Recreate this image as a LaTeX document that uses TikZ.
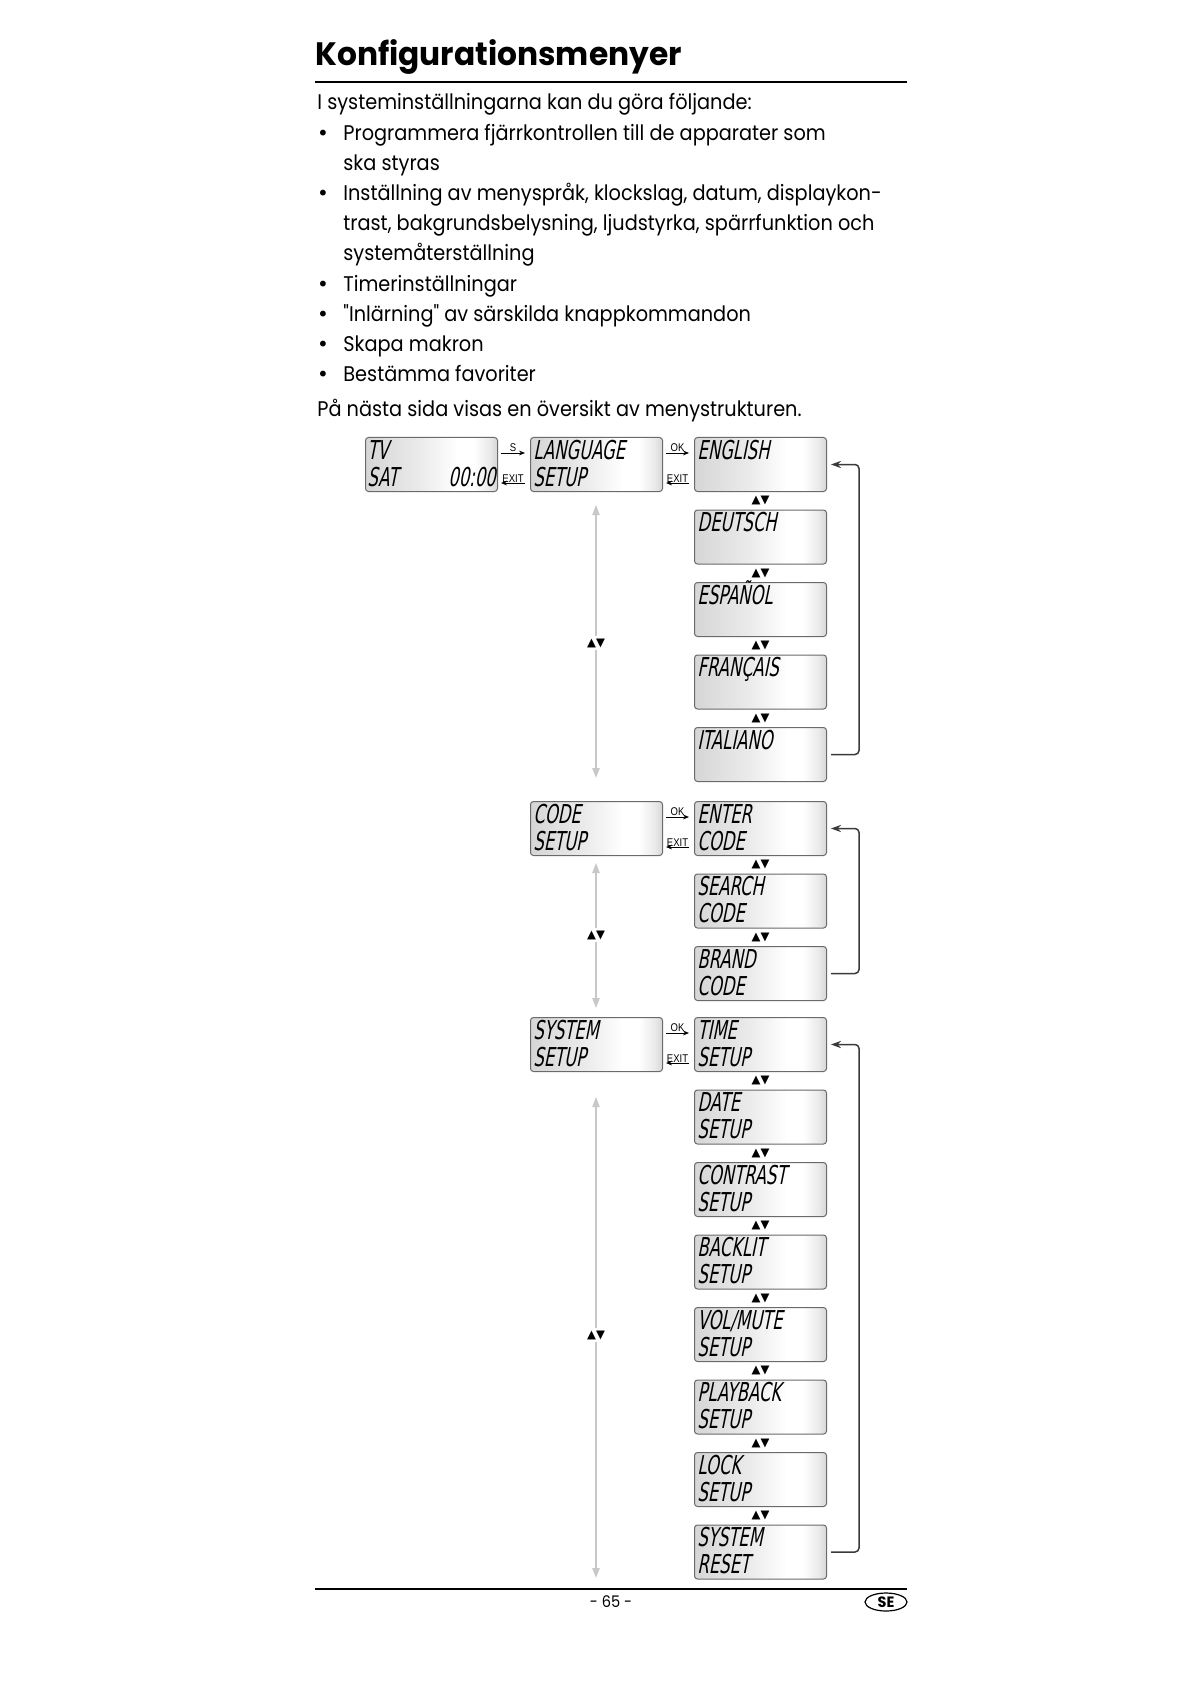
\documentclass[tikz,border=0pt]{standalone}
\usepackage{fontspec}
\setmainfont{Poppins}[FakeStretch=0.91]
\newfontfamily\bodyfont[FakeStretch=0.91]{Poppins}
\newfontfamily\titlefont[FakeStretch=0.965]{Poppins}
\newfontfamily\lcdfont[FakeSlant=0.2,FakeStretch=0.63]{DejaVu Sans}
\newfontfamily\symfont{DejaVu Sans}
\newfontfamily\labfont[FakeStretch=0.85]{Liberation Sans}
\usetikzlibrary{arrows.meta,calc,shapes.geometric}
\definecolor{lcdA}{HTML}{D6D6D6}
\definecolor{lcdB}{HTML}{EAEAEA}
\definecolor{lcdedge}{HTML}{6A6A6A}
\definecolor{guide}{HTML}{C8C8C8}
\definecolor{retc}{HTML}{3A3A3A}
\pgfdeclarehorizontalshading{lcdshade}{100bp}{color(0bp)=(lcdA); color(25bp)=(lcdA); color(45bp)=(lcdB); color(60bp)=(white); color(66bp)=(white); color(72bp)=(lcdB); color(75bp)=(lcdA); color(100bp)=(lcdA)}
\tikzset{
  lcd/.style={draw=lcdedge, line width=0.5pt, rounded corners=1.5pt, shading=lcdshade,
    minimum width=66pt, minimum height=27pt, inner sep=0pt, anchor=north west},
  lcdtxt/.style={inner sep=0pt, anchor=base west, font=\lcdfont\fontsize{13}{13}\selectfont},
  nav/.style={inner sep=1pt, font=\symfont\fontsize{5.8}{6}\selectfont},
  harr/.style={line width=0.45pt, -{Stealth[length=3pt,width=2.4pt]}},
  hlab/.style={inner sep=0pt, font=\labfont\fontsize{5.6}{6}\selectfont},
  ret/.style={draw=retc, line width=0.75pt, rounded corners=2pt, -{Stealth[length=5pt,width=3.6pt]}},
  garr/.style={draw=guide, line width=0.8pt, -{Triangle[length=5pt,width=3.6pt]}, fill=guide},
  body/.style={inner sep=0pt, anchor=base west, font=\bodyfont\fontsize{10.6}{12}\selectfont},
  bul/.style={inner sep=0pt, anchor=base, font=\symfont\fontsize{10}{12}\selectfont},
}
\newcommand\lcdone[4]{%
  \node[lcd] (#1) at (#2,#3) {};
  \node[lcdtxt] (#1-a) at ($(#1.north west)+(3,22)$) {#4};}
\newcommand\lcdtwo[5]{%
  \node[lcd] (#1) at (#2,#3) {};
  \node[lcdtxt] (#1-a) at ($(#1.north west)+(3,22)$) {#4};
  \node[lcdtxt] (#1-b) at ($(#1.north west)+(3,49)$) {#5};}
\newcommand\okexit[2]{%
  \draw[harr] ($(#1.north east)+(3,16)$) -- ($(#2.north west)+(-5,16)$)
     node[midway, above=0.6pt, hlab] (#1-#2-ok) {OK};
  \draw[harr] ($(#2.north west)+(-5,46)$) -- ($(#1.north east)+(3,46)$)
     node[midway, above=0.2pt, hlab] (#1-#2-exit) {EXIT};}
\newcommand\updown[3]{%
  \path (#2.south) -- (#3.north) node[midway, nav] (#1) {▲▼};}
\begin{document}
\begin{tikzpicture}[x=0.5pt,y=-0.5pt]
\useasboundingbox[fill=white] (0,0) rectangle (1191,1684);

% heading
\node[inner sep=0pt, anchor=base west, font=\titlefont\bfseries\fontsize{16.2}{18}\selectfont] (title) at (315,66) {Konfigurationsmenyer};
\draw[line width=1pt] (315,82) coordinate (r1a) -- (907,82) coordinate (r1b);

% body text
\node[body] (t1) at (317,110) {I systeminställningarna kan du göra följande:};
\node[bul] (b1) at (323,140.2) {•};
\node[body] (t2) at (343,140.2) {Programmera fjärrkontrollen till de apparater som};
\node[body] (t3) at (343,170.4) {ska styras};
\node[bul] (b2) at (323,200.6) {•};
\node[body] (t4) at (343,200.6) {Inställning av menyspråk, klockslag, datum, displaykon-};
\node[body] (t5) at (343,230.8) {trast, bakgrundsbelysning, ljudstyrka, spärrfunktion och};
\node[body] (t6) at (343,261) {systemåterställning};
\node[bul] (b3) at (323,291.2) {•};
\node[body] (t7) at (343,291.2) {Timerinställningar};
\node[bul] (b4) at (323,321.4) {•};
\node[body] (t8) at (343,321.4) {"Inlärning" av särskilda knappkommandon};
\node[bul] (b5) at (323,351.6) {•};
\node[body] (t9) at (343,351.6) {Skapa makron};
\node[bul] (b6) at (323,381.8) {•};
\node[body] (t10) at (343,381.8) {Bestämma favoriter};
\node[body] (t11) at (317,416) {På nästa sida visas en översikt av menystrukturen.};

% first row
\node[lcd] (tv) at (365,437) {};
\node[lcdtxt] (tv-a) at ($(tv.north west)+(2,22)$) {TV};
\node[lcdtxt] (tv-b) at ($(tv.north west)+(2,49)$) {SAT};
\node[lcdtxt, anchor=base east] (tv-c) at ($(tv.north east)+(-2,49)$) {00:00};
\lcdtwo{lang}{530}{437}{LANGUAGE}{SETUP}
\draw[harr] ($(tv.north east)+(3,16)$) -- ($(lang.north west)+(-5,16)$)
   node[midway, above=0.6pt, hlab] (s-lab) {S};
\draw[harr] ($(lang.north west)+(-5,46)$) -- ($(tv.north east)+(3,46)$)
   node[midway, above=0.2pt, hlab] (tv-exit) {EXIT};

% language list
\lcdone{eng}{694}{437}{ENGLISH}
\lcdone{deu}{694}{509.5}{DEUTSCH}
\lcdone{esp}{694}{582}{ESPAÑOL}
\lcdone{fra}{694}{654.5}{FRANÇAIS}
\lcdone{ita}{694}{727}{ITALIANO}
\okexit{lang}{eng}
\updown{n1}{eng}{deu}
\updown{n2}{deu}{esp}
\updown{n3}{esp}{fra}
\updown{n4}{fra}{ita}
\draw[ret] ($(ita.east)+(4,0)$) -- ($(ita.east)+(32,0)$) |- ($(eng.east)+(4,0)$);

% code setup
\lcdtwo{code}{530}{801}{CODE}{SETUP}
\lcdtwo{enter}{694}{801}{ENTER}{CODE}
\lcdtwo{search}{694}{873.5}{SEARCH}{CODE}
\lcdtwo{brand}{694}{946}{BRAND}{CODE}
\okexit{code}{enter}
\updown{n5}{enter}{search}
\updown{n6}{search}{brand}
\draw[ret] ($(brand.east)+(4,0)$) -- ($(brand.east)+(32,0)$) |- ($(enter.east)+(4,0)$);

% system setup
\lcdtwo{sys}{530}{1017}{SYSTEM}{SETUP}
\lcdtwo{time}{694}{1017}{TIME}{SETUP}
\lcdtwo{date}{694}{1089.5}{DATE}{SETUP}
\lcdtwo{contrast}{694}{1162}{CONTRAST}{SETUP}
\lcdtwo{backlit}{694}{1234.5}{BACKLIT}{SETUP}
\lcdtwo{vol}{694}{1307}{VOL/MUTE}{SETUP}
\lcdtwo{play}{694}{1379.5}{PLAYBACK}{SETUP}
\lcdtwo{lock}{694}{1452}{LOCK}{SETUP}
\lcdtwo{reset}{694}{1524.5}{SYSTEM}{RESET}
\okexit{sys}{time}
\updown{n7}{time}{date}
\updown{n8}{date}{contrast}
\updown{n9}{contrast}{backlit}
\updown{n10}{backlit}{vol}
\updown{n11}{vol}{play}
\updown{n12}{play}{lock}
\updown{n13}{lock}{reset}
\draw[ret] ($(reset.east)+(4,0)$) -- ($(reset.east)+(32,0)$) |- ($(time.east)+(4,0)$);

% gray guide arrows in the left column
\node[nav] (g1) at (596,643) {▲▼};
\coordinate (g1t) at (596,505);
\coordinate (g1b) at (596,778);
\draw[garr] (g1) -- (g1t);
\draw[garr] (g1) -- (g1b);
\node[nav] (g2) at (596,935) {▲▼};
\coordinate (g2t) at (596,863);
\coordinate (g2b) at (596,1008);
\draw[garr] (g2) -- (g2t);
\draw[garr] (g2) -- (g2b);
\node[nav] (g3) at (596,1335) {▲▼};
\coordinate (g3t) at (596,1097);
\coordinate (g3b) at (596,1578);
\draw[garr] (g3) -- (g3t);
\draw[garr] (g3) -- (g3b);

% footer
\draw[line width=0.7pt] (315,1589) coordinate (r2a) -- (907,1589) coordinate (r2b);
\node[inner sep=0pt, font=\bodyfont\fontsize{8}{9}\selectfont] (page) at (611,1602) {- 65 -};
\node[draw, line width=0.6pt, ellipse, minimum width=21pt, minimum height=9pt, inner sep=0pt,
  font=\titlefont\bfseries\fontsize{7.5}{8}\selectfont] (se) at (886,1602) {SE};
\end{tikzpicture}
\end{document}
